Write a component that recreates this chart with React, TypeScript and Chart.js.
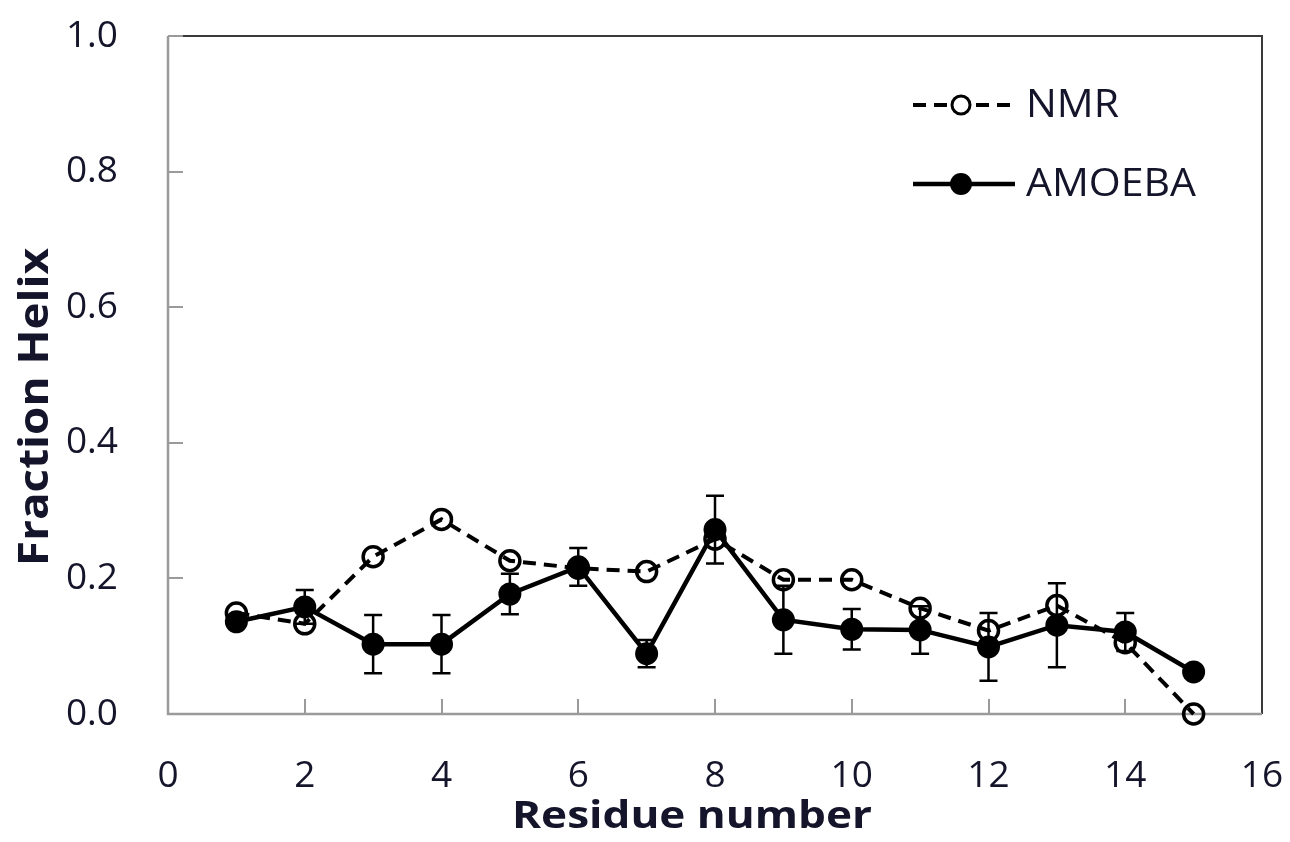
import React, { useEffect, useRef } from 'react';
import { Chart, registerables } from 'chart.js';

Chart.register(...registerables);

const residues = [1, 2, 3, 4, 5, 6, 7, 8, 9, 10, 11, 12, 13, 14, 15];
const nmrValues = [0.149, 0.133, 0.232, 0.287, 0.226, 0.215, 0.21, 0.258, 0.198, 0.198, 0.156, 0.123, 0.16, 0.105, 0.0];
const amoebaValues = [0.136, 0.158, 0.103, 0.103, 0.177, 0.217, 0.089, 0.272, 0.139, 0.125, 0.124, 0.099, 0.131, 0.121, 0.062];
const amoebaErrors = [0, 0.025, 0.043, 0.043, 0.03, 0.028, 0.02, 0.05, 0.05, 0.03, 0.035, 0.05, 0.062, 0.028, 0];
const seriesLabels = ['NMR', 'AMOEBA'];
const xTitle = 'Residue number';
const yTitle = 'Fraction Helix';
const xRange = [0, 16];
const yRange = [0, 1];
const xStep = 2;
const yStep = 0.2;

const TEXT = '#14142a';
const FONT = '"Open Sans", "Noto Sans", sans-serif';
const NMR_DASH = [13, 8];

function drawFittedText(
  ctx: CanvasRenderingContext2D,
  text: string,
  cx: number,
  baselineY: number,
  fontPx: number,
  targetWidth: number,
  rotate: boolean,
  bold: boolean
) {
  ctx.save();
  ctx.translate(cx, baselineY);
  if (rotate) ctx.rotate(-Math.PI / 2);
  ctx.font = `${bold ? 'bold ' : ''}${fontPx}px ${FONT}`;
  const w = ctx.measureText(text).width;
  ctx.scale(targetWidth / w, 1);
  ctx.fillStyle = TEXT;
  ctx.textAlign = 'center';
  ctx.textBaseline = 'alphabetic';
  ctx.fillText(text, 0, 0);
  ctx.restore();
}

const framePlugin = {
  id: 'frame',
  beforeDatasetsDraw(chart: any) {
    const { ctx, chartArea: a, scales } = chart;
    const xs = scales.x;
    const ys = scales.y;
    ctx.save();
    ctx.strokeStyle = '#3a3a3a';
    ctx.lineWidth = 2;
    ctx.beginPath();
    ctx.moveTo(a.left, a.top);
    ctx.lineTo(a.right, a.top);
    ctx.lineTo(a.right, a.bottom);
    ctx.stroke();
    ctx.strokeStyle = '#9a9a9a';
    ctx.lineWidth = 2.5;
    ctx.beginPath();
    ctx.moveTo(a.left, a.top);
    ctx.lineTo(a.left, a.bottom);
    ctx.lineTo(a.right, a.bottom);
    ctx.stroke();
    ctx.lineWidth = 2;
    ctx.beginPath();
    for (let v = yRange[0] + yStep; v < yRange[1] + 1e-9; v += yStep) {
      const py = Math.round(ys.getPixelForValue(v));
      ctx.moveTo(a.left, py);
      ctx.lineTo(a.left + 15, py);
    }
    for (let v = xRange[0] + xStep; v < xRange[1] - 1e-9; v += xStep) {
      const px = Math.round(xs.getPixelForValue(v));
      ctx.moveTo(px, a.bottom);
      ctx.lineTo(px, a.bottom - 15);
    }
    ctx.stroke();
    ctx.restore();
  },
};

const errorBarPlugin = {
  id: 'errorBars',
  beforeDatasetsDraw(chart: any) {
    const { ctx, scales } = chart;
    const xs = scales.x;
    const ys = scales.y;
    ctx.save();
    ctx.strokeStyle = '#000';
    ctx.lineWidth = 2.5;
    ctx.beginPath();
    residues.forEach((r, i) => {
      const e = amoebaErrors[i];
      if (!e) return;
      const px = xs.getPixelForValue(r);
      const top = ys.getPixelForValue(amoebaValues[i] + e);
      const bot = ys.getPixelForValue(amoebaValues[i] - e);
      ctx.moveTo(px, top);
      ctx.lineTo(px, bot);
      ctx.moveTo(px - 9, top);
      ctx.lineTo(px + 9, top);
      ctx.moveTo(px - 9, bot);
      ctx.lineTo(px + 9, bot);
    });
    ctx.stroke();
    ctx.restore();
  },
};

const legendPlugin = {
  id: 'customLegend',
  afterDraw(chart: any) {
    const { ctx } = chart;
    const x0 = 913;
    const x1 = 1015;
    const cx = 961;
    const rows = [105, 184];
    ctx.save();
    ctx.strokeStyle = '#000';
    ctx.lineWidth = 4;
    ctx.setLineDash(NMR_DASH);
    ctx.beginPath();
    ctx.moveTo(x0, rows[0]);
    ctx.lineTo(x1, rows[0]);
    ctx.stroke();
    ctx.setLineDash([]);
    ctx.lineWidth = 3;
    ctx.beginPath();
    ctx.arc(cx, rows[0], 9, 0, Math.PI * 2);
    ctx.fillStyle = '#fff';
    ctx.fill();
    ctx.stroke();
    ctx.lineWidth = 4.5;
    ctx.beginPath();
    ctx.moveTo(x0, rows[1]);
    ctx.lineTo(x1, rows[1]);
    ctx.stroke();
    ctx.beginPath();
    ctx.arc(cx, rows[1], 11, 0, Math.PI * 2);
    ctx.fillStyle = '#000';
    ctx.fill();
    ctx.restore();
    ctx.save();
    ctx.fillStyle = TEXT;
    ctx.font = `38px ${FONT}`;
    ctx.textAlign = 'left';
    ctx.textBaseline = 'middle';
    const labelWidths = [93, 170];
    seriesLabels.forEach((lbl, i) => {
      const w = ctx.measureText(lbl).width;
      ctx.save();
      ctx.translate(1026, rows[i] + 1);
      ctx.scale(labelWidths[i] / w, 1);
      ctx.fillText(lbl, 0, 0);
      ctx.restore();
    });
    ctx.restore();
  },
};

const titlePlugin = {
  id: 'axisTitles',
  afterDraw(chart: any) {
    const { ctx } = chart;
    drawFittedText(ctx, xTitle, 692, 828, 38, 360, false, true);
    drawFittedText(ctx, yTitle, 48, 407, 42, 318, true, true);
  },
};

export default function App() {
  const canvasRef = useRef<HTMLCanvasElement | null>(null);

  useEffect(() => {
    document.body.style.margin = '0';
    document.body.style.overflow = 'hidden';
    const canvas = canvasRef.current;
    if (!canvas) return;
    const chart = new Chart(canvas, {
      type: 'line',
      data: {
        datasets: [
          {
            label: seriesLabels[1],
            data: residues.map((r, i) => ({ x: r, y: amoebaValues[i] })),
            borderColor: '#000',
            backgroundColor: '#000',
            borderWidth: 4.5,
            pointRadius: 11.5,
            pointBackgroundColor: '#000',
            pointBorderColor: '#000',
            pointBorderWidth: 0,
            tension: 0,
            clip: false,
          },
          {
            label: seriesLabels[0],
            data: residues.map((r, i) => ({ x: r, y: nmrValues[i] })),
            borderColor: '#000',
            backgroundColor: 'rgba(0,0,0,0)',
            borderWidth: 4,
            borderDash: NMR_DASH,
            pointRadius: 10,
            pointBackgroundColor: 'rgba(0,0,0,0)',
            pointBorderColor: '#000',
            pointBorderWidth: 3.5,
            tension: 0,
            clip: false,
          },
        ],
      },
      options: {
        responsive: false,
        maintainAspectRatio: false,
        animation: false,
        devicePixelRatio: 1,
        layout: { padding: { top: 36, right: 28, left: 0, bottom: 0 } },
        plugins: {
          legend: { display: false },
          tooltip: { enabled: false },
        },
        scales: {
          x: {
            type: 'linear',
            min: xRange[0],
            max: xRange[1],
            grid: { display: false, drawTicks: false },
            border: { display: false },
            ticks: {
              stepSize: xStep,
              color: TEXT,
              font: { family: FONT, size: 37 },
              padding: 40,
              maxRotation: 0,
              autoSkip: false,
            },
            afterFit: (scale: any) => {
              scale.height = 128;
              scale.paddingLeft = 0;
              scale.paddingRight = 0;
            },
          },
          y: {
            type: 'linear',
            min: yRange[0],
            max: yRange[1],
            grid: { display: false, drawTicks: false },
            border: { display: false },
            ticks: {
              stepSize: yStep,
              color: TEXT,
              font: { family: FONT, size: 37 },
              padding: 50,
              callback: (v: any) => Number(v).toFixed(1),
            },
            afterFit: (scale: any) => {
              scale.width = 168;
              scale.paddingTop = 0;
              scale.paddingBottom = 0;
            },
          },
        },
      },
      plugins: [framePlugin, errorBarPlugin, legendPlugin, titlePlugin],
    });
    return () => chart.destroy();
  }, []);

  return (
    <div style={{ width: 1290, height: 842, background: '#fff' }}>
      <canvas ref={canvasRef} width={1290} height={842} style={{ display: 'block' }} />
    </div>
  );
}
